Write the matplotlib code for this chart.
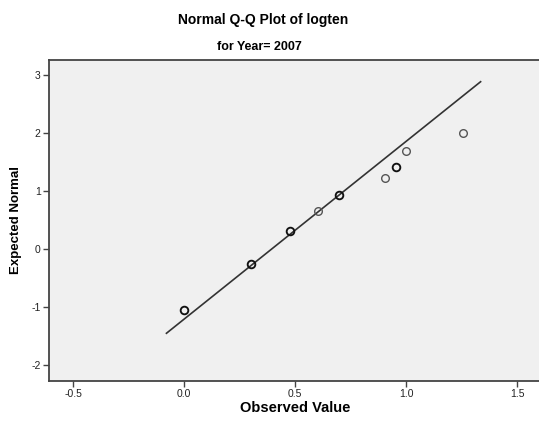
import matplotlib.pyplot as plt
import numpy as np

plt.rcParams['font.family'] = ['Liberation Sans', 'DejaVu Sans']
plt.rcParams['axes.unicode_minus'] = False

# Observed (logten) values and their expected normal scores
observed = [0.0, 0.301, 0.477, 0.602, 0.699, 0.903, 0.954, 1.0, 1.255]
expected = [-1.057, -0.253, 0.310, 0.655, 0.931, 1.218, 1.419, 1.695, 2.005]
counts = [2, 2, 2, 1, 2, 1, 2, 1, 1]

# Reference line endpoints
line_x = [-0.08, 1.335]
line_y = [-1.453, 2.884]

x_ticks = [-0.5, 0.0, 0.5, 1.0, 1.5]
y_ticks = [-2, -1, 0, 1, 2, 3]

fig = plt.figure(figsize=(5.39, 4.29), dpi=100)
ax = fig.add_axes([49 / 539, 48 / 429, 492 / 539, 321.5 / 429])
ax.set_facecolor('#f0f0f0')

ax.plot(line_x, line_y, color='#333333', lw=1.2, zorder=2)

for x, y, c in zip(observed, expected, counts):
    ax.plot(x, y, 'o', ms=5.5, mfc='none',
            mec='#111111' if c > 1 else '#555555',
            mew=1.35 if c > 1 else 1.0, zorder=3)

ax.set_xlim(-0.609, 1.607)
ax.set_ylim(-2.276, 3.267)
ax.set_xticks(x_ticks)
ax.set_xticklabels(['%.1f' % v for v in x_ticks])
ax.set_yticks(y_ticks)

for side in ['left', 'bottom', 'top']:
    ax.spines[side].set_color('#444444')
    ax.spines[side].set_linewidth(1.3)
ax.spines['right'].set_visible(False)

ax.tick_params(axis='both', direction='out', length=4, width=1.0,
               color='#444444', labelsize=7.5, labelcolor='#222222', pad=2)

ax.set_xlabel('Observed Value', fontsize=10.5, fontweight='bold')
ax.set_ylabel('Expected Normal', fontsize=9.5, fontweight='bold')
ax.xaxis.set_label_coords((295 - 49) / 492, -(408 - 381) / 321.5)
ax.yaxis.set_label_coords(-(49 - 16) / 492, (381 - 220) / 321.5)
ax.xaxis.label.set_va('center')
ax.yaxis.label.set_va('center')

fig.text(263 / 539, 1 - 20 / 429, 'Normal Q-Q Plot of logten',
         ha='center', va='center', fontsize=10, fontweight='bold')
fig.text(259 / 539, 1 - 47 / 429, 'for Year= 2007',
         ha='center', va='center', fontsize=9, fontweight='bold')

fig.savefig('out.png', dpi=100, facecolor='white')
